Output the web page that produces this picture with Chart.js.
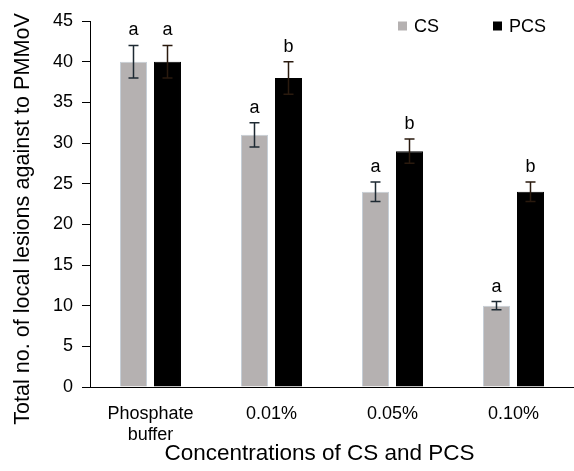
<!DOCTYPE html>
<html>
<head>
<meta charset="utf-8">
<script src="https://cdn.jsdelivr.net/npm/chart.js@4"></script>
<style>
  body { margin: 0; background: #fff; overflow: hidden; }
  #wrap { width: 574px; height: 471px; }
</style>
</head>
<body>
<div id="wrap"><canvas id="lesionChart"></canvas></div>
<script>
// data
const categories = [['Phosphate', 'buffer'], '0.01%', '0.05%', '0.10%'];
const seriesNames = ['CS', 'PCS'];
const csValues = [40, 31, 24, 10];
const csErrors = [2, 1.5, 1.2, 0.5];
const csLetters = ['a', 'a', 'a', 'a'];
const pcsValues = [40, 38, 29, 24];
const pcsErrors = [2, 2, 1.5, 1.2];
const pcsLetters = ['a', 'b', 'b', 'b'];
const yMin = 0, yMax = 45, yStep = 5;

const FONT = '"Liberation Sans", Arial, sans-serif';
Chart.defaults.font.family = FONT;
Chart.defaults.color = '#000';

// error bars + significance letters
const errorBars = {
  id: 'errorBars',
  afterDatasetsDraw(chart) {
    const ctx = chart.ctx;
    const y = chart.scales.y;
    chart.data.datasets.forEach((ds, i) => {
      const meta = chart.getDatasetMeta(i);
      meta.data.forEach((bar, j) => {
        const v = ds.data[j];
        const top = y.getPixelForValue(v + ds.errors[j]);
        const bot = y.getPixelForValue(v - ds.errors[j]);
        ctx.save();
        ctx.strokeStyle = ds.errColor;
        ctx.lineWidth = 1.5;
        ctx.beginPath();
        ctx.moveTo(bar.x, top); ctx.lineTo(bar.x, bot);
        ctx.moveTo(bar.x - 5, top); ctx.lineTo(bar.x + 5, top);
        ctx.moveTo(bar.x - 5, bot); ctx.lineTo(bar.x + 5, bot);
        ctx.stroke();
        ctx.fillStyle = '#000';
        ctx.font = '18px ' + FONT;
        ctx.textAlign = 'center';
        ctx.textBaseline = 'alphabetic';
        ctx.fillText(ds.letters[j], bar.x, top - 10);
        ctx.restore();
      });
    });
  }
};

// legend sits inside the plot, top right, like the excel one
const insideLegend = {
  id: 'insideLegend',
  afterDraw(chart) {
    const ctx = chart.ctx;
    const area = chart.chartArea;
    const cy = area.top + 5;
    const xs = [area.right - 176, area.right - 81];
    ctx.save();
    ctx.font = '18px ' + FONT;
    ctx.textBaseline = 'middle';
    ctx.textAlign = 'left';
    chart.data.datasets.forEach((ds, i) => {
      ctx.fillStyle = ds.backgroundColor;
      ctx.fillRect(xs[i], cy - 4.5, 9, 9);
      ctx.fillStyle = '#000';
      ctx.fillText(ds.label, xs[i] + 16, cy + 1);
    });
    ctx.restore();
  }
};

new Chart(document.getElementById('lesionChart'), {
  type: 'bar',
  data: {
    labels: categories,
    datasets: [{
      label: seriesNames[0],
      data: csValues,
      errors: csErrors,
      letters: csLetters,
      errColor: '#1e2a33',
      backgroundColor: '#b5b1b1',
      borderColor: '#c6ced6',
      borderWidth: 1,
      categoryPercentage: 0.562,
      barPercentage: 0.794
    }, {
      label: seriesNames[1],
      data: pcsValues,
      errors: pcsErrors,
      letters: pcsLetters,
      errColor: '#2a1a0e',
      backgroundColor: '#000',
      borderColor: '#000',
      borderWidth: 1,
      categoryPercentage: 0.562,
      barPercentage: 0.794
    }]
  },
  options: {
    responsive: true,
    maintainAspectRatio: false,
    animation: false,
    layout: { padding: { top: 21, left: 0, right: 0, bottom: 0 } },
    plugins: {
      tooltip: { enabled: false },
      legend: { display: false }
    },
    scales: {
      x: {
        grid: { display: false },
        border: { display: true, color: '#000', width: 1 },
        ticks: { padding: 8, font: { size: 18 }, color: '#000' },
        title: {
          display: true,
          text: 'Concentrations of CS and PCS    ',
          font: { size: 22.5 },
          color: '#000',
          padding: { top: 0, bottom: 4 }
        },
        afterFit(scale) { scale.height = 84; }
      },
      y: {
        min: yMin,
        max: yMax,
        grid: { drawOnChartArea: false, drawTicks: true, tickLength: 8, color: '#000' },
        border: { display: true, color: '#000', width: 1 },
        ticks: { stepSize: yStep, padding: 9, font: { size: 18 }, color: '#000' },
        title: {
          display: true,
          text: 'Total no. of local lesions against to PMMoV     ',
          font: { size: 21.6 },
          color: '#000',
          padding: { top: 10, bottom: 0 }
        },
        afterFit(scale) { scale.width = 90; }
      }
    }
  },
  plugins: [errorBars, insideLegend]
});
</script>
</body>
</html>
